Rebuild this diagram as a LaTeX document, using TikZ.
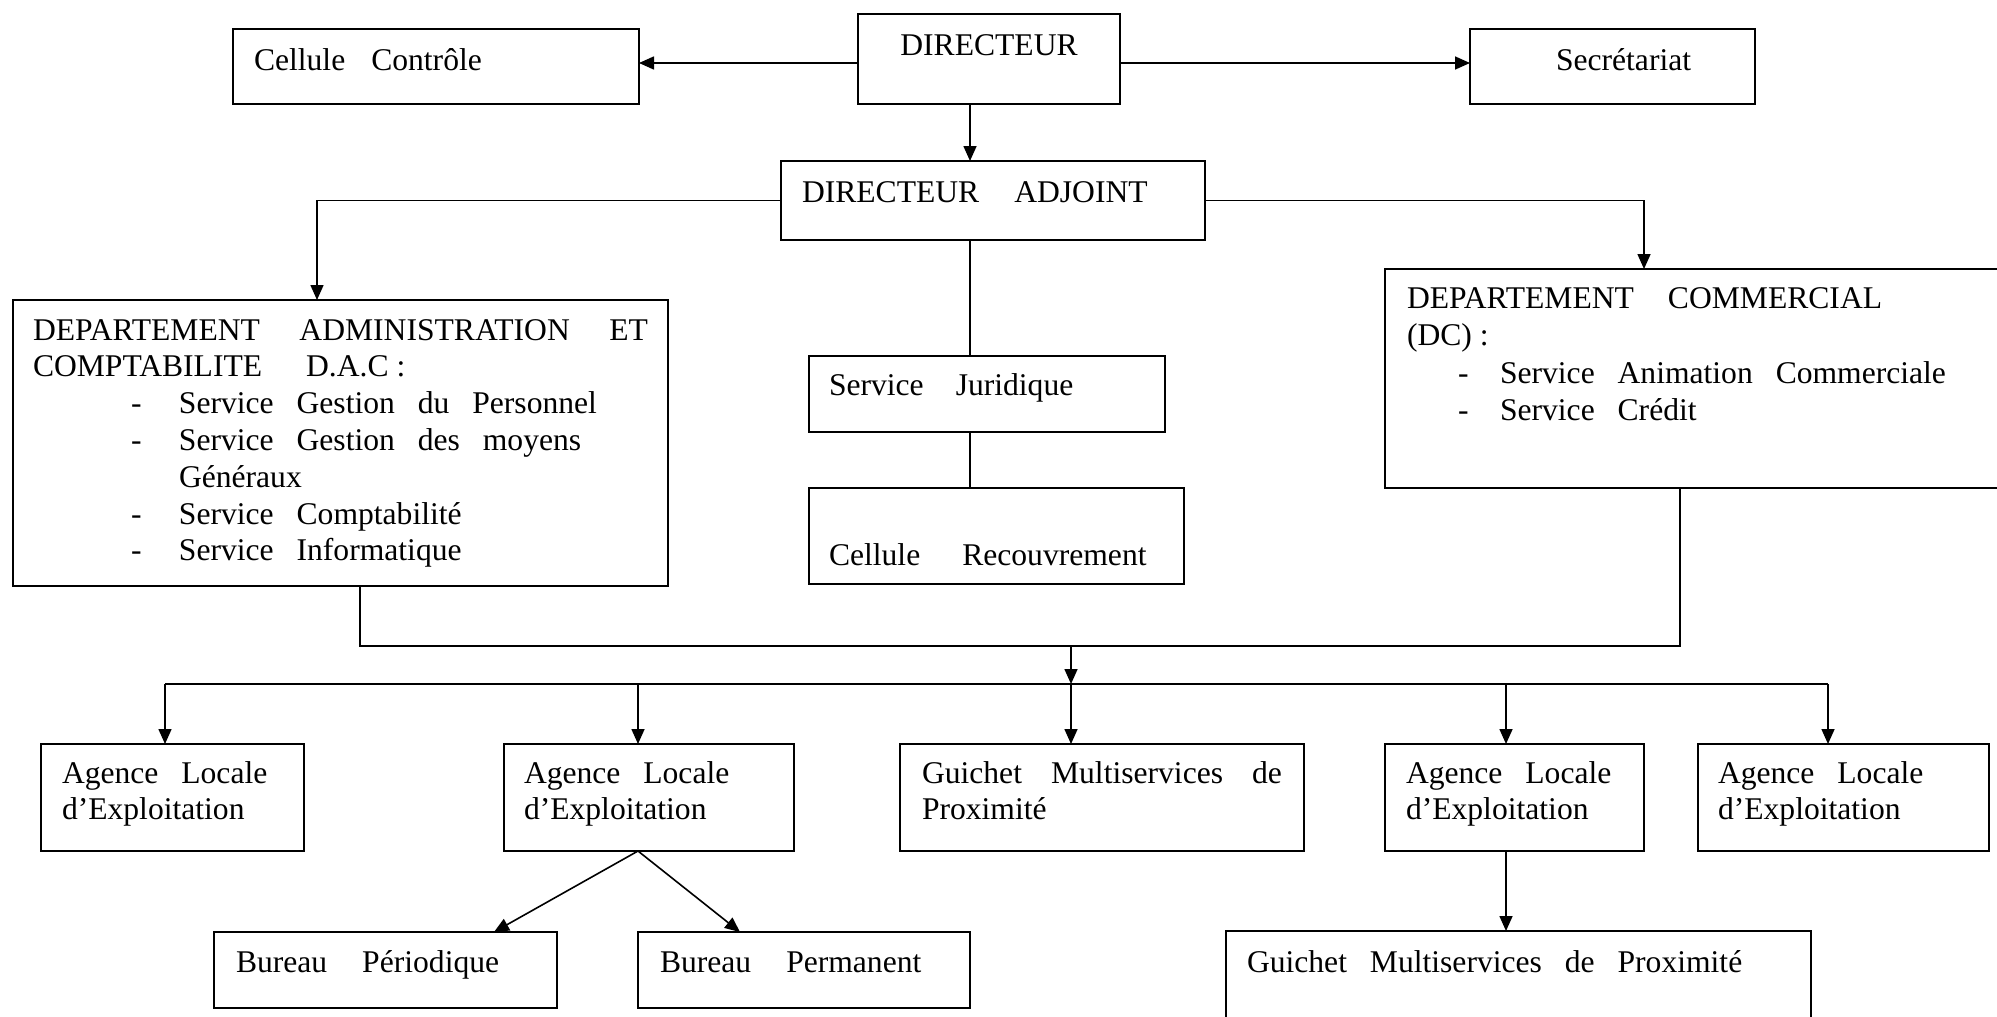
\documentclass[tikz,border=0pt]{standalone}
\usepackage{fontspec}
\setmainfont{Liberation Serif}
\usetikzlibrary{arrows.meta}
\newcommand{\tiret}[1]{\makebox[#1pt][l]{-}}
\newcommand{\espacemot}{\spaceskip=22.9pt\relax}
\tikzset{
  organe/.style={draw, line width=1.6pt, anchor=north west, outer sep=0pt,
    inner ysep=0pt, align=left, font=\fontsize{31.6}{36.8}\selectfont,
    execute at begin node=\espacemot},
  cadre/.style n args={4}{inner xsep=#1pt, text width=#2pt, text height=#3pt, text depth=#4pt},
  trait/.style={line width=1.6pt}
}
\begin{document}
\begin{tikzpicture}[>={Triangle[length=15pt,width=13pt]}, x=1pt, y=-1pt]
\useasboundingbox (0,0) rectangle (1997,1017);

\node[organe, cadre={10}{242}{41}{49}, align=center] (dir) at (858,14) {DIRECTEUR};
\node[organe, cadre={21}{364}{41}{34}] (cc) at (233,29) {Cellule\hspace{26pt}Contrôle};
\node[organe, cadre={10}{265}{41}{34}] (sec) at (1470,29) {\hspace*{76pt}Secrétariat};
\node[organe, cadre={21}{382}{41}{38}] (da) at (781,161) {DIRECTEUR\hspace{35pt}ADJOINT};

\node[organe, cadre={20}{615}{40}{246}] (dac) at (13,300) {%
  DEPARTEMENT\hfill ADMINISTRATION\hfill ET\\
  COMPTABILITE\hspace{44pt}D.A.C\hspace{8pt}:\\
  \hspace*{98pt}\tiret{48}Service Gestion du Personnel\\
  \hspace*{98pt}\tiret{48}Service Gestion des moyens\\
  \hspace*{146pt}Généraux\\
  \hspace*{98pt}\tiret{48}Service Comptabilité\\
  \hspace*{98pt}\tiret{48}Service Informatique};
\node[organe, cadre={20}{316}{39}{37}] (sj) at (809,356) {Service\hspace{32pt}Juridique};
\node[organe, cadre={20}{335}{77}{19}] (cr) at (809,488) {Cellule\hspace{42pt}Recouvrement};
\node[organe, cadre={22}{581}{39}{180}, font=\fontsize{31.6}{37.6}\selectfont] (dc) at (1385,269) {%
  DEPARTEMENT\hspace{34pt}COMMERCIAL\\
  (DC)\hspace{8pt}:\\
  \hspace*{51pt}\tiret{42}Service Animation Commerciale\\
  \hspace*{51pt}\tiret{42}Service Crédit};

\node[organe, cadre={21}{221}{39}{68}] (ale1) at (41,744) {Agence Locale\\d’Exploitation};
\node[organe, cadre={20}{250}{39}{68}] (ale2) at (504,744) {Agence Locale\\d’Exploitation};
\node[organe, cadre={22}{360}{39}{68}] (gmp) at (900,744) {Guichet\hfill Multiservices\hfill de\\Proximité};
\node[organe, cadre={21}{217}{39}{68}] (ale4) at (1385,744) {Agence Locale\\d’Exploitation};
\node[organe, cadre={20}{251}{39}{68}] (ale5) at (1698,744) {Agence Locale\\d’Exploitation};

\node[organe, cadre={22}{299}{40}{36}] (bp) at (214,932) {Bureau\hspace{35pt}Périodique};
\node[organe, cadre={22}{288}{40}{36}] (bpe) at (638,932) {Bureau\hspace{35pt}Permanent};
\node[organe, cadre={21}{543}{41}{60}] (gmp2) at (1226,931) {Guichet Multiservices de Proximité};

\draw[trait,->] ([yshift=-4pt]dir.west) coordinate (dg) -- (dg -| cc.east);
\draw[trait,->] ([yshift=-4pt]dir.east) coordinate (dd) -- (dd -| sec.west);

\coordinate (axe) at (970,0);
\draw[trait,->] (dir.south -| axe) -- (da.north -| axe);
\draw[trait] (da.south -| axe) -- (sj.north -| axe);
\draw[trait] (sj.south -| axe) -- (cr.north -| axe);

\draw[trait,->] (da.west) -| ([xshift=-23.5pt]dac.north);
\draw[trait,->] (da.east) -| ([xshift=259pt]dc.north west);

\coordinate (b1) at (1071,646);
\coordinate (b2) at (1071,684);
\draw[trait] ([xshift=19.5pt]dac.south) |- (b1) -| ([xshift=295pt]dc.south west);
\draw[trait,->] (b1) -- (b2);
\draw[trait] ([xshift=-7.5pt]ale1.north |- b2) -- ([xshift=-15.5pt]ale5.north |- b2);
\foreach \n/\dx in {ale1/-7.5,ale2/-11,gmp/-31,ale4/-8.5,ale5/-15.5}
  \draw[trait,->] ([xshift=\dx pt]\n.north |- b2) -- ([xshift=\dx pt]\n.north);

\draw[trait,->] ([xshift=-11pt]ale2.south) -- ([xshift=108.5pt]bp.north);
\draw[trait,->] ([xshift=-11pt]ale2.south) -- ([xshift=-64pt]bpe.north);
\draw[trait,->] ([xshift=-8.5pt]ale4.south) -- ([xshift=-8.5pt]ale4.south |- gmp2.north);
\end{tikzpicture}
\end{document}
